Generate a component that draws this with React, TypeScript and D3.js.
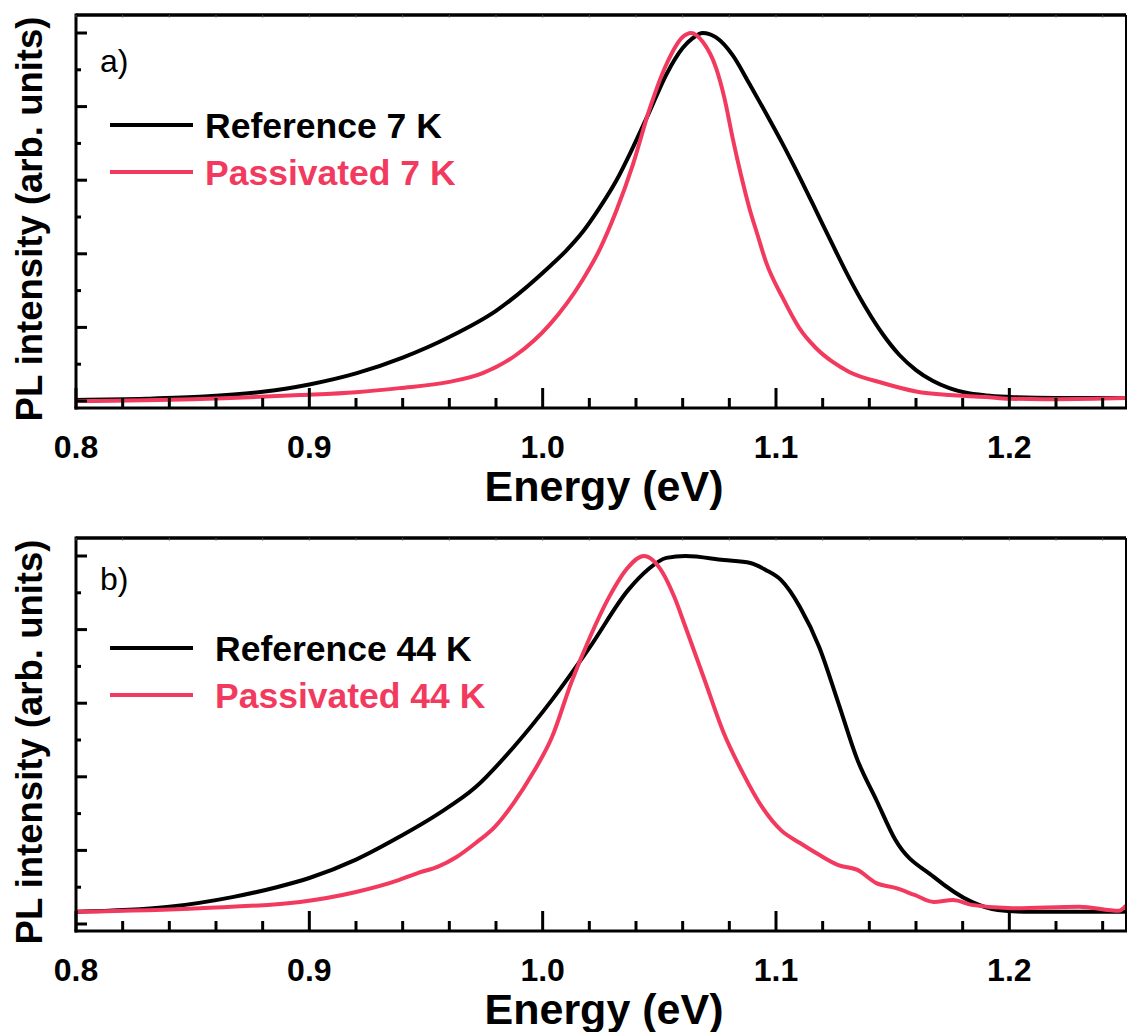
import React from "react";
import * as d3 from "d3";

// ---------- DATA (energy eV, normalized PL intensity) ----------
const ref7: [number, number][] = [
  [0.8, 0.003], [0.83, 0.006], [0.855, 0.012], [0.88, 0.025], [0.9, 0.045],
  [0.92, 0.075], [0.94, 0.118], [0.96, 0.174], [0.98, 0.245], [1.0029, 0.365],
  [1.01, 0.408], [1.0171, 0.459], [1.0243, 0.524], [1.0314, 0.597], [1.0386, 0.688],
  [1.0457, 0.785], [1.0529, 0.886], [1.06, 0.959], [1.0643, 0.986], [1.0686, 1.0],
  [1.0743, 0.988], [1.0814, 0.94], [1.0886, 0.862], [1.0957, 0.782], [1.1029, 0.698],
  [1.11, 0.61], [1.1171, 0.518], [1.1243, 0.424], [1.1314, 0.334], [1.1386, 0.252],
  [1.1457, 0.182], [1.1529, 0.125], [1.16, 0.084], [1.1671, 0.055], [1.1743, 0.035],
  [1.181, 0.023], [1.19, 0.015], [1.2, 0.011], [1.22, 0.008], [1.25, 0.008],
];
const pas7: [number, number][] = [
  [0.8, 0.0], [0.85, 0.005], [0.896, 0.016], [0.92, 0.024], [0.9386, 0.035],
  [0.96, 0.052], [0.9743, 0.076], [0.9886, 0.125], [1.0029, 0.207], [1.0171, 0.329],
  [1.0243, 0.41], [1.0314, 0.514], [1.0386, 0.641], [1.0457, 0.791], [1.0529, 0.913],
  [1.06, 0.989], [1.0636, 1.0], [1.0686, 0.976], [1.0743, 0.905], [1.0779, 0.823],
  [1.0814, 0.715], [1.085, 0.614], [1.0886, 0.524], [1.0921, 0.451], [1.0957, 0.378],
  [1.1029, 0.28], [1.11, 0.198], [1.1171, 0.144], [1.1243, 0.106], [1.1314, 0.079],
  [1.1457, 0.049], [1.16, 0.026], [1.1743, 0.016], [1.19, 0.011], [1.2, 0.006],
  [1.22, 0.005], [1.25, 0.008],
];
const ref44: [number, number][] = [
  [0.8, 0.033], [0.839, 0.046], [0.867, 0.073], [0.886, 0.1], [0.9, 0.125],
  [0.92, 0.175], [0.9386, 0.237], [0.9549, 0.298], [0.9713, 0.372], [0.9876, 0.481],
  [1.004, 0.609], [1.0203, 0.753], [1.0367, 0.908], [1.0449, 0.962], [1.053, 0.995],
  [1.0612, 1.0], [1.0776, 0.989], [1.089, 0.981], [1.0956, 0.962], [1.1021, 0.935],
  [1.1103, 0.861], [1.1185, 0.753], [1.1267, 0.601], [1.1349, 0.446], [1.143, 0.337],
  [1.1512, 0.228], [1.1676, 0.128], [1.1839, 0.06], [1.195, 0.038], [1.21, 0.033],
  [1.23, 0.033], [1.25, 0.033],
];
const pas44: [number, number][] = [
  [0.8, 0.033], [0.853, 0.043], [0.896, 0.06], [0.92, 0.087], [0.9386, 0.12],
  [0.9467, 0.139], [0.9549, 0.155], [0.9631, 0.182], [0.9713, 0.22], [0.9795, 0.264],
  [0.9876, 0.329], [0.9958, 0.41], [1.004, 0.508], [1.0122, 0.655], [1.0203, 0.78],
  [1.0285, 0.889], [1.0367, 0.97], [1.0433, 1.0], [1.0515, 0.954], [1.0564, 0.889],
  [1.0612, 0.807], [1.0694, 0.663], [1.0776, 0.519], [1.0858, 0.41], [1.094, 0.318],
  [1.1021, 0.255], [1.1103, 0.22], [1.1185, 0.188], [1.1267, 0.16], [1.1349, 0.147],
  [1.143, 0.111], [1.1512, 0.098], [1.1594, 0.079], [1.1676, 0.06], [1.1758, 0.065],
  [1.1839, 0.052], [1.2014, 0.043], [1.23, 0.047], [1.247, 0.036], [1.25, 0.05],
];

const xMajorTicks = [0.8, 0.9, 1.0, 1.1, 1.2];
const xTickLabels = ["0.8", "0.9", "1.0", "1.1", "1.2"];
const yMajorTicks = [0, 0.2, 0.4, 0.6, 0.8, 1.0];
const panelLetters = ["a)", "b)"];
const legendRef = ["Reference 7 K", "Reference 44 K"];
const legendPas = ["Passivated 7 K", "Passivated 44 K"];

const RED = "#f23a5f";
const FONT = "'Liberation Sans', Arial, Helvetica, sans-serif";

const LEFT = 76;
const RIGHT = 1126;

function Panel({ off, ref, pas, idx, legendX }: any) {
  const top = 15 + off;
  const bottom = 408 + off;
  const x = d3.scaleLinear().domain([0.8, 1.25]).range([LEFT, RIGHT]);
  const y = d3.scaleLinear().domain([0, 1]).range([401 + off, 33 + off]);
  const line = d3
    .line<[number, number]>()
    .x((d) => x(d[0]))
    .y((d) => y(d[1]))
    .curve(d3.curveMonotoneX);
  const minorX = d3.range(0, 23).map((i) => 0.8 + i * 0.02).filter((v) => v <= 1.2501);
  const minorY = d3.range(0, 11).map((i) => i * 0.1);
  const clipId = "clip" + idx;
  return (
    <g>
      <defs>
        <clipPath id={clipId}>
          <rect x={LEFT} y={top} width={RIGHT - LEFT} height={bottom - top} />
        </clipPath>
      </defs>
      <g clipPath={`url(#${clipId})`}>
        <path d={line(ref) || ""} fill="none" stroke="#000" strokeWidth={4} strokeLinejoin="round" />
        <path d={line(pas) || ""} fill="none" stroke={RED} strokeWidth={4} strokeLinejoin="round" />
      </g>
      {/* frame */}
      <line x1={LEFT} x2={RIGHT} y1={top} y2={top} stroke="#000" strokeWidth={3.5} />
      <line x1={RIGHT} x2={RIGHT} y1={top} y2={bottom} stroke="#000" strokeWidth={2} />
      <line x1={LEFT} x2={LEFT} y1={top - 1.5} y2={bottom + 1.5} stroke="#000" strokeWidth={3} />
      <line x1={LEFT - 1.5} x2={RIGHT + 1} y1={bottom} y2={bottom} stroke="#000" strokeWidth={3} />
      {/* x ticks */}
      {minorX.map((v, i) => {
        const major = xMajorTicks.some((m) => Math.abs(m - v) < 1e-6);
        return (
          <g key={"xt" + i}>
            <line x1={x(v)} x2={x(v)} y1={bottom} y2={bottom - (major ? 20 : 10)} stroke="#000" strokeWidth={3} />
            <line x1={x(v)} x2={x(v)} y1={top} y2={top + 2.5} stroke="#555" strokeWidth={1} />
          </g>
        );
      })}
      {xMajorTicks.map((v, i) => (
        <text key={"xl" + i} x={x(v)} y={bottom + 50} textAnchor="middle" fontFamily={FONT} fontWeight="bold" fontSize={32}>
          {xTickLabels[i]}
        </text>
      ))}
      {/* y ticks */}
      {minorY.map((v, i) => {
        const major = yMajorTicks.some((m) => Math.abs(m - v) < 1e-6);
        return (
          <line key={"yt" + i} x1={LEFT} x2={LEFT + (major ? 11 : 5)} y1={y(v)} y2={y(v)} stroke="#000" strokeWidth={3} />
        );
      })}
      {/* axis titles */}
      <text x={(LEFT + RIGHT) / 2 + 3} y={bottom + 93} textAnchor="middle" fontFamily={FONT} fontWeight="bold" fontSize={43}>
        Energy (eV)
      </text>
      <text
        transform={`translate(42, ${219 + off}) rotate(-90)`}
        textAnchor="middle"
        fontFamily={FONT}
        fontWeight="bold"
        fontSize={36.5}
      >
        PL intensity (arb. units)
      </text>
      {/* panel letter */}
      <text x={100} y={idx === 0 ? 72 : 590} fontFamily={FONT} fontSize={32}>
        {panelLetters[idx]}
      </text>
      {/* legend */}
      <line x1={110} x2={193} y1={125 + off} y2={125 + off} stroke="#000" strokeWidth={4} />
      <line x1={110} x2={193} y1={172 + off} y2={172 + off} stroke={RED} strokeWidth={4} />
      <text x={legendX} y={138 + off} fontFamily={FONT} fontWeight="bold" fontSize={35.5}>
        {legendRef[idx]}
      </text>
      <text x={legendX} y={185 + off} fontFamily={FONT} fontWeight="bold" fontSize={35.5} fill={RED}>
        {legendPas[idx]}
      </text>
    </g>
  );
}

export default function App() {
  return (
    <svg
      width={1128}
      height={1032}
      style={{ position: "absolute", left: 0, top: 0, background: "#fff" }}
    >
      <rect width={1128} height={1032} fill="#fff" />
      <Panel off={0} ref={ref7} pas={pas7} idx={0} legendX={205} />
      <Panel off={523} ref={ref44} pas={pas44} idx={1} legendX={215} />
    </svg>
  );
}
